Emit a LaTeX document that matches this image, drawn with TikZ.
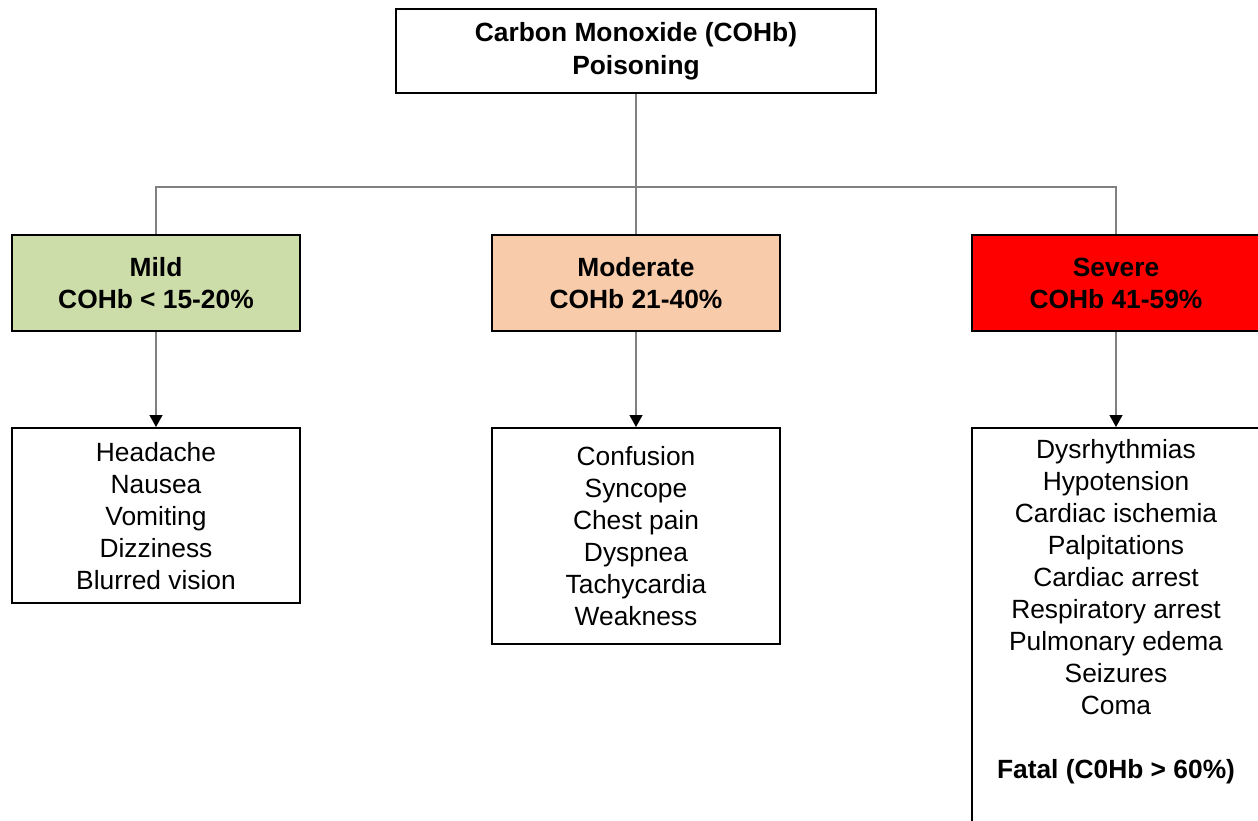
\documentclass[tikz,border=0pt]{standalone}
\usepackage{fontspec}
\setmainfont{Liberation Sans}
\usetikzlibrary{arrows.meta}

\begin{document}
\begin{tikzpicture}[x=0.02cm, y=-0.02cm,
    box/.style={draw=black, line width=1.4pt, minimum width=5.76cm, align=center, inner sep=0pt, font=\fontsize{15}{18.2}\selectfont},
    levelbox/.style={box, minimum height=1.92cm, font=\fontsize{15}{18.2}\selectfont\bfseries},
    listbox/.style={box, anchor=north},
    link/.style={draw=gray, line width=0.75pt},
    arrowlink/.style={link, -{Triangle[width=0.26cm, length=0.24cm, color=black, fill=black]}}]
    % Define colors
    \definecolor{mildcolor}{RGB}{204,221,170}     % Green
    \definecolor{moderatecolor}{RGB}{248,203,170} % Peach
    \definecolor{severecolor}{RGB}{255,0,0}       % Red

    \useasboundingbox (0,0) rectangle (1258,821);
    \clip (0,0) rectangle (1258,821);

    % Title
    \node[box, minimum width=9.6cm, minimum height=1.68cm, font=\fontsize{15}{19}\selectfont\bfseries] (poison) at (636,51) {Carbon Monoxide (COHb)\\Poisoning};

    % Levels
    \node[levelbox, fill=mildcolor] (mild) at (156,283) {Mild\\COHb < 15-20\%};
    \node[levelbox, fill=moderatecolor] (moderate) at (636,283) {Moderate\\COHb 21-40\%};
    \node[levelbox, fill=severecolor] (severe) at (1116,283) {Severe\\COHb 41-59\%};

    % Symptoms
    \node[listbox, minimum height=3.5cm] (mildlist) at (156,427) {Headache\\Nausea\\Vomiting\\Dizziness\\Blurred vision};
    \node[listbox, minimum height=4.32cm] (moderatelist) at (636,427) {Confusion\\Syncope\\Chest pain\\Dyspnea\\Tachycardia\\Weakness};
    \node[listbox, minimum height=9cm] (severelist) at (1116,427) {};
    \node[align=center, anchor=north, inner sep=0pt, font=\fontsize{15}{18.2}\selectfont] (severetext) at (1116,439)
        {Dysrhythmias\\Hypotension\\Cardiac ischemia\\Palpitations\\Cardiac arrest\\Respiratory arrest\\Pulmonary edema\\Seizures\\Coma\\[18.2pt]\textbf{Fatal (C0Hb > 60\%)}};

    % Connectors
    \coordinate (split) at (636,187);
    \draw[link] (poison) -- (split);
    \draw[link] (split) -| (mild.north);
    \draw[link] (split) -- (moderate);
    \draw[link] (split) -| (severe.north);

    \draw[arrowlink] (mild) -- (mildlist);
    \draw[arrowlink] (moderate) -- (moderatelist);
    \draw[arrowlink] (severe) -- (severelist);
\end{tikzpicture}
\end{document}
